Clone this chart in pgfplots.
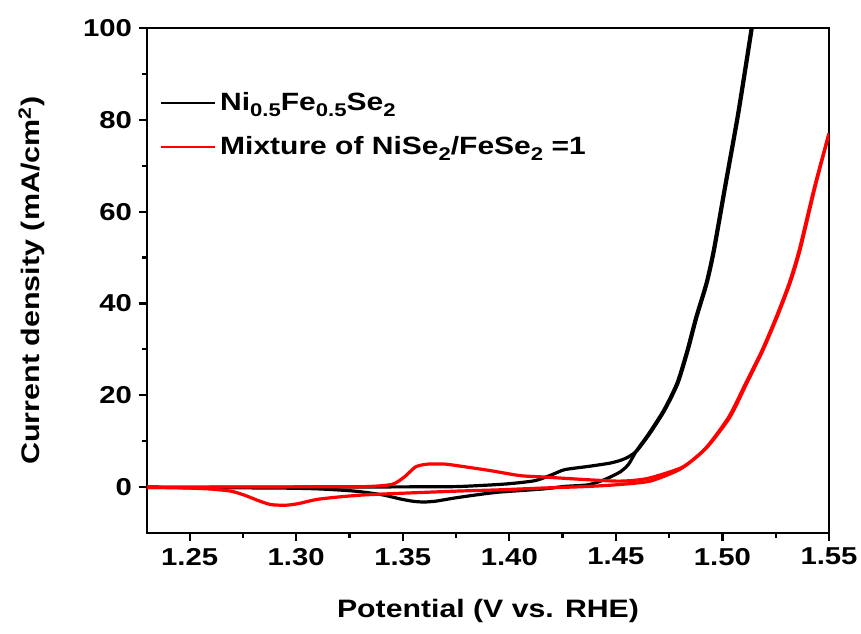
\documentclass[border=0pt]{standalone}
\usepackage{fontspec}
\setmainfont{Liberation Sans}[FakeStretch=1.2]
\usepackage{pgfplots}
\pgfplotsset{compat=1.18}
\newcommand{\sub}[1]{\raisebox{-3.3pt}{\fontsize{9.2}{9.2}\selectfont\bfseries #1}}

\begin{document}
\begin{tikzpicture}
\begin{axis}[
    name=ax,
    scale only axis,
    width=341pt, height=252.5pt,
    xmin=1.23, xmax=1.55,
    ymin=-10, ymax=100,
    xtick={1.25,1.30,...,1.55},
    ytick={0,20,...,100},
    minor x tick num=1,
    minor y tick num=1,
    xtick pos=left, ytick pos=left,
    tick align=outside,
    major tick length=4pt,
    minor tick length=2.5pt,
    axis line style={line width=1.2pt},
    every tick/.style={black, line width=1.1pt},
    x tick label style={/pgf/number format/.cd, fixed, fixed zerofill, precision=2, assume math mode=true},
    y tick label style={/pgf/number format/assume math mode=true},
    tick label style={font=\fontsize{12.2}{14}\selectfont\bfseries},
    xlabel={Potential (V vs. RHE)},
    ylabel={Current density (mA/cm\textsuperscript{2})},
    xlabel style={at={(axis description cs:0.5,-0.1554)}, anchor=center,
                  font=\fontsize{12.6}{15}\selectfont\bfseries},
    ylabel style={at={(axis description cs:-0.1690,0.5)}, anchor=center,
                  font=\fontsize{12.7}{15}\selectfont\bfseries},
    legend style={at={(axis description cs:0.01,0.89)}, anchor=north west, draw=none, fill=none,
                  font=\fontsize{12.5}{15}\selectfont\bfseries, row sep=7.5pt},
    legend cell align={left},
    legend image code/.code={\draw[#1, line width=1pt] (0pt,0pt) -- (27pt,0pt);},
]
% Ni0.5Fe0.5Se2: forward scan
\addplot[black, line width=1.6pt, smooth, tension=0.4] coordinates {
    (1.23,0) (1.30,0) (1.35,0.05) (1.374,0.1) (1.3845,0.3) (1.399,0.7)
    (1.412,1.4) (1.42,2.7) (1.426,3.8) (1.437,4.5) (1.447,5.2) (1.452,5.8)
    (1.456,6.6) (1.460,8.0) (1.466,11.7) (1.473,16.8) (1.4792,22.7)
    (1.4839,29.8) (1.488,37) (1.4928,44.4) (1.4962,51.5) (1.5015,65.4)
    (1.5077,81.5) (1.514,100) (1.5150,103)
};
% Ni0.5Fe0.5Se2: reverse scan
\addplot[black, line width=1.6pt, smooth, tension=0.4, forget plot] coordinates {
    (1.5145,103) (1.5135,100) (1.5072,81.5) (1.501,65.4) (1.4957,51.5) (1.4923,44.4)
    (1.4875,37) (1.4834,29.8) (1.4787,22.7) (1.4725,16.8) (1.4655,11.7)
    (1.4598,8.0) (1.456,5.0) (1.452,3.3) (1.4445,1.6) (1.437,0.5)
    (1.426,0.15) (1.416,-0.4) (1.395,-1.1) (1.3845,-1.7) (1.374,-2.4)
    (1.3657,-3.05) (1.36,-3.25) (1.355,-3.1) (1.349,-2.6) (1.3406,-1.7)
    (1.328,-0.9) (1.311,-0.4) (1.29,-0.2) (1.23,-0.1)
};
% Mixture NiSe2/FeSe2 = 1: forward scan
\addplot[red, line width=1.6pt, smooth, tension=0.4] coordinates {
    (1.23,0) (1.26,0) (1.30,0.05) (1.332,0.1) (1.345,0.6) (1.351,2.3)
    (1.356,4.4) (1.3615,5.0) (1.370,5.0) (1.378,4.5) (1.391,3.6)
    (1.405,2.5) (1.416,2.2) (1.437,1.6) (1.4505,1.3) (1.458,1.45)
    (1.466,2.0) (1.4815,4.4) (1.4928,8.7) (1.5036,15.3) (1.5115,22.7)
    (1.519,29.8) (1.5256,37) (1.5317,44.4) (1.5364,51.6) (1.5435,65.4)
    (1.55,77)
};
% Mixture NiSe2/FeSe2 = 1: reverse scan
\addplot[red, line width=1.6pt, smooth, tension=0.4, forget plot] coordinates {
    (1.55,77) (1.5432,65.4) (1.536,51.6) (1.5313,44.4) (1.5252,37) (1.5186,29.8)
    (1.511,22.7) (1.503,15.3) (1.492,8.4) (1.4805,4.0) (1.466,1.3)
    (1.45,0.5) (1.435,0.1) (1.416,-0.2) (1.395,-0.6) (1.374,-0.9)
    (1.332,-1.7) (1.311,-2.6) (1.301,-3.6) (1.295,-3.95) (1.288,-3.8)
    (1.282,-2.9) (1.276,-1.8) (1.2695,-0.9) (1.259,-0.4) (1.245,-0.15)
    (1.23,-0.1)
};
\legend{Ni\sub{0.5}Fe\sub{0.5}Se\sub{2},
        Mixture of NiSe\sub{2}/FeSe\sub{2} =1}
\end{axis}
\pgfresetboundingbox
\path ([xshift=-73.5pt,yshift=14pt]ax.north west) rectangle ([xshift=16pt,yshift=-50pt]ax.south east);
\end{tikzpicture}
\end{document}
